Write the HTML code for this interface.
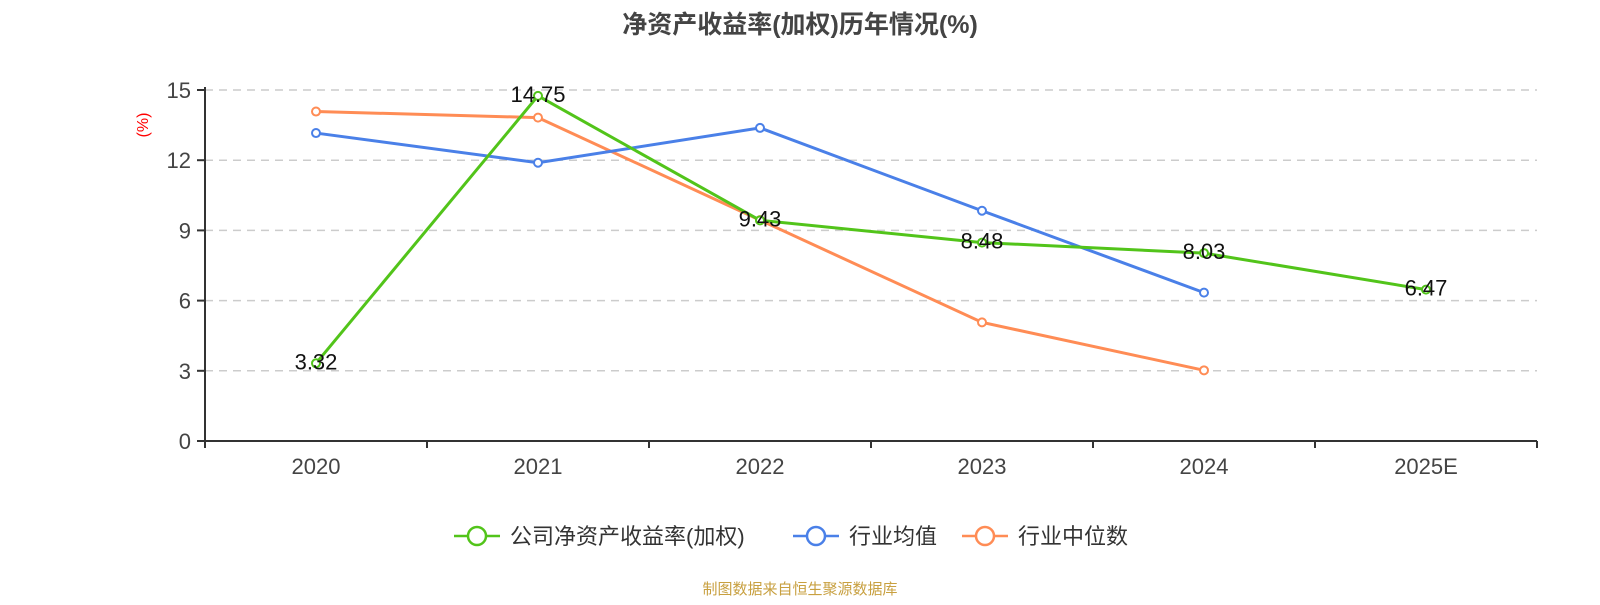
<!DOCTYPE html>
<html><head><meta charset="utf-8"><style>
body{margin:0;background:#fff;font-family:"Liberation Sans","Noto Sans CJK SC",sans-serif;}
</style></head><body>
<svg id="chart" width="1600" height="600" xmlns="http://www.w3.org/2000/svg" font-family="Liberation Sans, Noto Sans CJK SC, sans-serif">
<text x="800" y="33" text-anchor="middle" font-size="25" font-weight="bold" fill="#444">净资产收益率(加权)历年情况(%)</text>
<text transform="translate(148,125) rotate(-90)" text-anchor="middle" font-size="16" fill="#f00">(%)</text>
<g id="grid"></g><g id="axes"></g><g id="series"></g><g id="legend"></g>
<text x="800" y="594" text-anchor="middle" font-size="15" fill="#c8a040">制图数据来自恒生聚源数据库</text>
</svg>
<script>
const categories=["2020","2021","2022","2023","2024","2025E"];
const yTicks=[0,3,6,9,12,15];
const companyVals=[3.32,14.75,9.43,8.48,8.03,6.47];
const meanVals=[13.16,11.89,13.38,9.84,6.34];
const medianVals=[14.08,13.82,9.44,5.07,3.02];
const ns="http://www.w3.org/2000/svg";
const X0=205,X1=1537,Y0=441,Y15=90;
const bw=(X1-X0)/categories.length;
const xs=i=>X0+bw*(i+0.5);
const ys=v=>Y0-(v/15)*(Y0-Y15);
function mk(t,a,p){const e=document.createElementNS(ns,t);for(const k in a)e.setAttribute(k,a[k]);p.appendChild(e);return e;}
const grid=document.getElementById('grid'),axes=document.getElementById('axes'),ser=document.getElementById('series'),leg=document.getElementById('legend');
yTicks.forEach(v=>{
 if(v>0){const g=mk('line',{x1:X0,x2:X1,y1:ys(v),y2:ys(v),stroke:'#ccc','stroke-width':1.5,'stroke-dasharray':'8,6'},grid);
 }
 mk('line',{x1:X0-8,x2:X0,y1:ys(v),y2:ys(v),stroke:'#333','stroke-width':2},axes);
 const l=mk('text',{x:X0-14,y:ys(v)+8,'text-anchor':'end','font-size':22,fill:'#444'},axes);l.textContent=v;
 
});
mk('line',{x1:X0,x2:X0,y1:Y15-3,y2:Y0,stroke:'#333','stroke-width':2},axes);
mk('line',{x1:X0,x2:X1,y1:Y0,y2:Y0,stroke:'#333','stroke-width':2},axes);
for(let i=0;i<=categories.length;i++)mk('line',{x1:X0+bw*i,x2:X0+bw*i,y1:Y0,y2:Y0+7,stroke:'#333','stroke-width':2},axes);
categories.forEach((c,i)=>{const t=mk('text',{x:xs(i),y:Y0+33,'text-anchor':'middle','font-size':22,fill:'#444'},axes);t.textContent=c;
 });
function line(vals,color,name,labels){
 const g=mk('g',{},ser);
 mk('polyline',{points:vals.map((v,i)=>xs(i)+','+ys(v)).join(' '),fill:'none',stroke:color,'stroke-width':3},g);
 vals.forEach((v,i)=>{const c=mk('circle',{cx:xs(i),cy:ys(v),r:4,fill:'#fff',stroke:color,'stroke-width':2},g);
  
  if(labels){const t=mk('text',{x:xs(i),y:ys(v)+6,'text-anchor':'middle','font-size':22,fill:'#111'},g);t.textContent=v.toFixed(2);
  }});
}
line(medianVals,'#ff8c55','median-line',false);
line(meanVals,'#4a80e8','mean-line',false);
line(companyVals,'#52c41a','company-line',true);
const items=[["公司净资产收益率(加权)","#52c41a",454],["行业均值","#4a80e8",793],["行业中位数","#ff8c55",962]];
items.forEach(([n,c,x])=>{const g=mk('g',{},leg);
 mk('line',{x1:x,x2:x+46,y1:536,y2:536,stroke:c,'stroke-width':2.5},g);
 mk('circle',{cx:x+23,cy:536,r:9,fill:'#fff',stroke:c,'stroke-width':2.5},g);
 const t=mk('text',{x:x+56,y:544,'font-size':22,fill:'#333'},g);t.textContent=n;});
</script>
</body></html>
